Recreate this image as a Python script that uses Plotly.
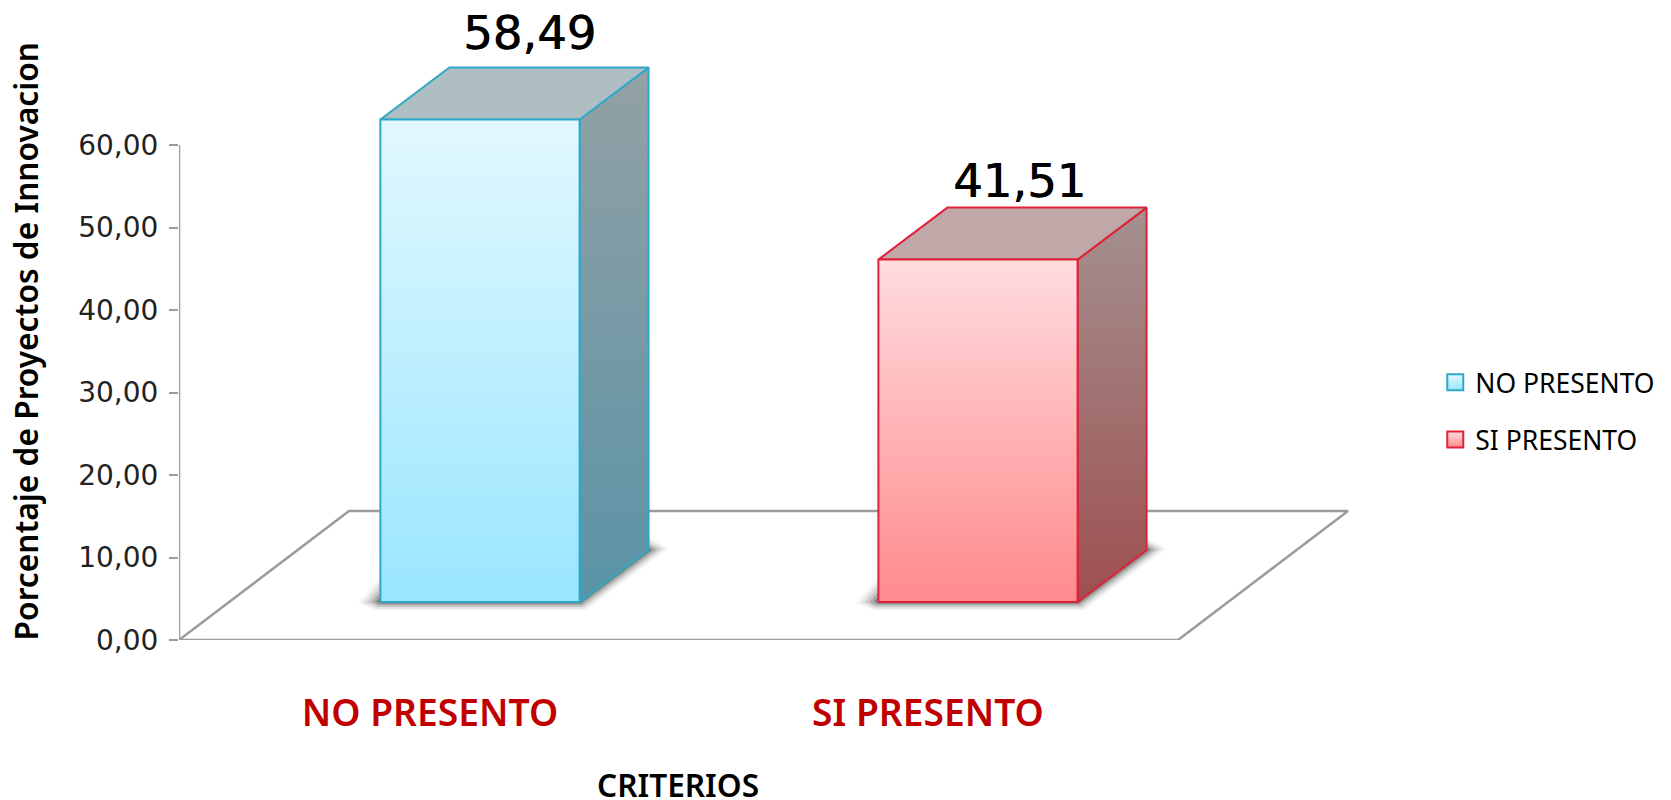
import plotly.graph_objects as go

# ---- data ----
categories = ["NO PRESENTO", "SI PRESENTO"]
values = [58.49, 41.51]
value_labels = ["58,49", "41,51"]
y_ticks = [0, 10, 20, 30, 40, 50, 60]

# ---- projection of the pseudo-3D chart, in axis units ----
PX_X = 498.0            # pixels per x unit
PX_Y = 8.25             # pixels per y unit
X0 = -0.6044            # left end of the floor front edge (y axis position)
X1 = 1.4016             # right end of the floor front edge
PLOT_W = 1492
PLOT_H = 632
BASE = 4.6              # bar foot above the axis zero
BAR_W = 0.40
DX = 69 / PX_X          # depth of a bar
DY = 52 / PX_Y
FLOOR_DX = 170 / PX_X
FLOOR_DY = 129 / PX_Y
LABEL_SHIFT = -50 / PX_X

styles = [
    dict(front=("#99E6FF", "#E2F8FF"), side=("#5A93A7", "#93A1A5"), top="#AEBEC3", edge="#2FA8C8"),
    dict(front=("#FF8A8C", "#FFDCDF"), side=("#9F4F50", "#A39190"), top="#C0A8A9", edge="#E0213A"),
]
GRAY = "#9C9C9C"
FONT_SANS = "Noto Sans"
FONT_NUM = "DejaVu Sans"

fig = go.Figure()


def poly(xs, ys, fill=None, grad=None, line=None, width=2):
    kw = dict(
        x=list(xs) + [xs[0]], y=list(ys) + [ys[0]], mode="lines", fill="toself",
        cliponaxis=False, showlegend=False, hoverinfo="skip",
        line=dict(color=line or "rgba(0,0,0,0)", width=width if line else 0),
    )
    if grad:
        kw["fillgradient"] = dict(type="vertical", colorscale=[[0, grad[0]], [1, grad[1]]])
    else:
        kw["fillcolor"] = fill
    fig.add_trace(go.Scatter(**kw))


# floor
fig.add_trace(go.Scatter(
    x=[X0, X1, X1 + FLOOR_DX, X0 + FLOOR_DX, X0],
    y=[0, 0, FLOOR_DY, FLOOR_DY, 0],
    mode="lines", line=dict(color=GRAY, width=2.5), cliponaxis=False,
    showlegend=False, hoverinfo="skip",
))
# y axis line, 0 to the last tick
fig.add_trace(go.Scatter(
    x=[X0, X0], y=[y_ticks[0], y_ticks[-1]], mode="lines",
    line=dict(color=GRAY, width=2.5), cliponaxis=False, showlegend=False, hoverinfo="skip",
))

for i, (cat, val, st) in enumerate(zip(categories, values, styles)):
    left = i - BAR_W / 2
    right = i + BAR_W / 2
    foot = BASE
    head = BASE + val

    # soft shadow on the floor
    for grow, alpha in ((1.0, 0.05), (0.8, 0.08), (0.6, 0.12), (0.4, 0.18), (0.2, 0.28)):
        sxl = 0.045 * grow
        sxr = 0.04 * grow
        sy = 1.0 * grow
        poly(
            [left - sxl, left, right + DX, right + DX + sxr, right + sxr * 0.3, left - sxl * 0.2],
            [foot - 0.2 * sy + 0.1, foot + 3 * grow, foot + DY + 1.5 * grow, foot + DY + 0.2 * sy,
             foot - sy, foot - sy],
            fill=f"rgba(30,30,30,{alpha})",
        )

    # side face
    poly([right, right + DX, right + DX, right],
         [foot, foot + DY, head + DY, head], grad=st["side"], line=st["edge"])
    # top face
    poly([left, right, right + DX, left + DX],
         [head, head, head + DY, head + DY], fill=st["top"], line=st["edge"])
    # front face
    poly([left, right, right, left],
         [foot, foot, head, head], grad=st["front"], line=st["edge"], width=2)

# legend entries
for i, (cat, st) in enumerate(zip(categories, styles)):
    fig.add_trace(go.Scatter(
        x=[None], y=[None], mode="markers", name=cat, legendgroup=cat,
        marker=dict(
            symbol="square", size=16, color=st["front"][1],
            gradient=dict(type="vertical", color=st["front"][0]),
            line=dict(color=st["edge"], width=2),
        ),
    ))

# value labels
annotations = [
    dict(x=i + xoff, y=BASE + v + DY, text=t, showarrow=False, yanchor="bottom",
         yshift=yoff, font=dict(family=FONT_NUM, size=46.5, color="#000000", shadow="0.7px 0 0 #000000"))
    for i, (v, t, xoff, yoff) in enumerate(zip(values, value_labels, (50 / PX_X, 42 / PX_X), (6, -2)))
]
annotations.append(dict(
    xref="paper", yref="paper", x=-0.1030, y=0.473, xanchor="center", yanchor="middle",
    text="Porcentaje de Proyectos de Innovacion", textangle=-90, showarrow=False,
    font=dict(family=FONT_SANS, size=31.7, weight=600, color="#000000"),
))
annotations.append(dict(
    xref="paper", yref="paper", x=0.3345, y=-0.2294, xanchor="center", yanchor="middle",
    text="CRITERIOS", showarrow=False,
    font=dict(family=FONT_SANS, size=31.6, weight=600, color="#000000"),
))

fig.update_layout(
    width=1671, height=800, margin=dict(l=171, r=8, t=0, b=168),
    paper_bgcolor="#FFFFFF", plot_bgcolor="#FFFFFF",
    separators=",.",
    xaxis=dict(
        range=[X0, X0 + PLOT_W / PX_X], tickmode="array",
        tickvals=[i + LABEL_SHIFT for i in range(len(categories))], ticktext=categories,
        showgrid=False, zeroline=False, showline=False,
        ticks="outside", ticklen=40, tickcolor="rgba(0,0,0,0)",
        tickfont=dict(family=FONT_SANS, size=37.2, weight=600, color="#C00000"),
    ),
    yaxis=dict(
        range=[0, PLOT_H / PX_Y], tickmode="array", tickvals=y_ticks, tickformat=".2f",
        showgrid=False, zeroline=False, showline=False,
        ticks="outside", ticklen=9, tickcolor=GRAY, tickwidth=2, ticklabelstandoff=5,
        tickfont=dict(family=FONT_NUM, size=28, color="#222222"),
    ),
    legend=dict(
        x=0.842, y=0.4455, xanchor="left", yanchor="top", tracegroupgap=20,
        font=dict(family=FONT_SANS, size=26.5, color="#000000"),
        bgcolor="rgba(0,0,0,0)",
    ),
    annotations=annotations,
)

fig.write_html("out.html")
